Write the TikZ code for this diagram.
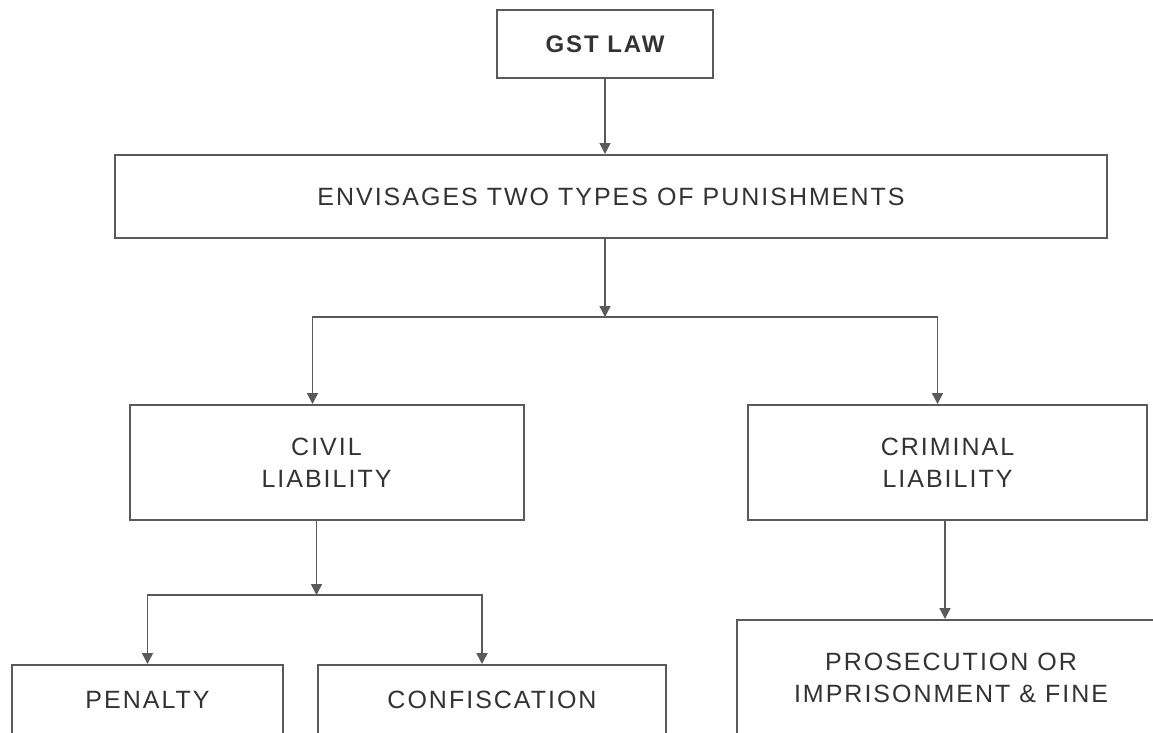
\documentclass[tikz,border=0pt]{standalone}
\usepackage{fontspec}
\setmainfont{Liberation Sans}[LetterSpace=8]
\usepackage{xcolor}
\usetikzlibrary{arrows.meta, positioning, calc}
\definecolor{linegray}{HTML}{5A5A5A}
\definecolor{textgray}{HTML}{333333}

\tikzset{
  box/.style={draw=linegray, line width=2pt, rectangle, align=center,
    text=textgray, font=\fontsize{25}{32}\selectfont, inner sep=0pt},
  link/.style={draw=linegray, line width=1.4pt,
    -{Triangle[width=11pt,length=11pt]}}
}

\begin{document}
\begin{tikzpicture}[x=1pt, y=-1pt]
      \useasboundingbox (0,0) rectangle (1153,732);
      \clip (0,0) rectangle (1153,732);
      \fill[white] (0,0) rectangle (1153,732);

      \node[box, minimum width=216pt, minimum height=68pt, font=\fontsize{24}{30}\selectfont\bfseries] (gst) at (605,44) {GST LAW};
      \node[box, minimum width=992pt, minimum height=83pt] (env) at (611,196.5) {ENVISAGES TWO TYPES OF PUNISHMENTS};

      \node[box, minimum width=394pt, minimum height=115pt] (civil) at (326.5,462.5) {CIVIL\\LIABILITY};
      \node[box, minimum width=399pt, minimum height=115pt] (crim) at (947.5,462.5) {CRIMINAL\\LIABILITY};

      \node[box, minimum width=271pt, minimum height=70pt] (pen) at (147.5,700) {PENALTY};
      \node[box, minimum width=348pt, minimum height=70pt] (conf) at (492,700) {CONFISCATION};
      \node[box, minimum width=428pt, minimum height=116pt] (pros) at (951,678) {PROSECUTION OR\\IMPRISONMENT \& FINE};

      \draw[link] (gst.south) -- (gst.south |- env.north);

      \coordinate (split1) at ($(gst.south |- env.south)+(0,78)$);
      \draw[link] (gst.south |- env.south) -- (split1);
      \draw[link] (split1) -| ([xshift=-14pt]civil.north);
      \draw[link] (split1) -| ([xshift=-10pt]crim.north);

      \coordinate (split2) at ($([xshift=-10pt]civil.south)+(0,74)$);
      \draw[link] ([xshift=-10pt]civil.south) -- (split2);
      \draw[link] (split2) -| (pen.north);
      \draw[link] (split2) -| ([xshift=-10pt]conf.north);

      \draw[link] ([xshift=-2.5pt]crim.south) -- ([xshift=-2.5pt]crim.south |- pros.north);

    \end{tikzpicture}
\end{document}
